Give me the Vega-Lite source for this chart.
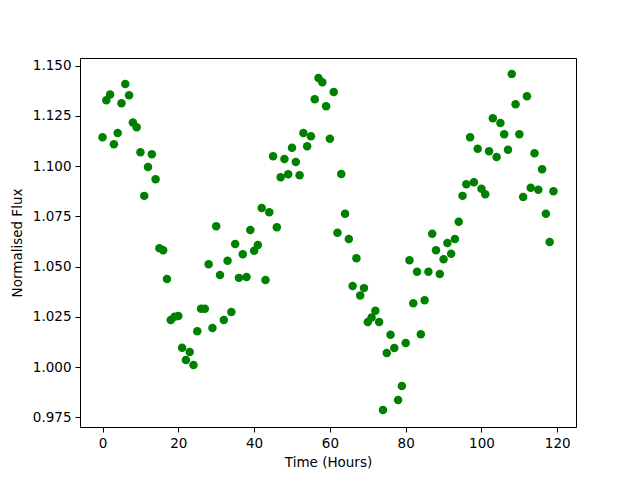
{
  "$schema": "https://vega.github.io/schema/vega-lite/v6.json",
  "width": 496,
  "height": 369,
  "autosize": {"type": "none"},
  "padding": {"left": 80, "top": 58, "right": 64, "bottom": 53},
  "background": "white",
  "config": {
    "view": {"stroke": "black", "strokeWidth": 1},
    "axis": {
      "domain": false,
      "grid": false,
      "ticks": true,
      "tickColor": "black",
      "tickSize": 5,
      "tickWidth": 1,
      "labelFont": "DejaVu Sans",
      "labelFontSize": 13.5,
      "labelColor": "black",
      "labelPadding": 4,
      "titleFont": "DejaVu Sans",
      "titleFontSize": 13.5,
      "titleFontWeight": "normal",
      "titleColor": "black"
    }
  },
  "data": {
    "values": [
      {"t": 0, "flux": 1.1144}, {"t": 1, "flux": 1.1328}, {"t": 2, "flux": 1.1356}, {"t": 3, "flux": 1.1109},
      {"t": 4, "flux": 1.1165}, {"t": 5, "flux": 1.1313}, {"t": 6, "flux": 1.1409}, {"t": 7, "flux": 1.1353},
      {"t": 8, "flux": 1.1217}, {"t": 9, "flux": 1.1194}, {"t": 10, "flux": 1.1069}, {"t": 11, "flux": 1.0852},
      {"t": 12, "flux": 1.0996}, {"t": 13, "flux": 1.1059}, {"t": 14, "flux": 1.0935}, {"t": 15, "flux": 1.0592},
      {"t": 16, "flux": 1.0582}, {"t": 17, "flux": 1.0438}, {"t": 18, "flux": 1.0234}, {"t": 19, "flux": 1.0250},
      {"t": 20, "flux": 1.0254}, {"t": 21, "flux": 1.0096}, {"t": 22, "flux": 1.0035}, {"t": 23, "flux": 1.0075},
      {"t": 24, "flux": 1.0010}, {"t": 25, "flux": 1.0179}, {"t": 26, "flux": 1.0290}, {"t": 27, "flux": 1.0290},
      {"t": 28, "flux": 1.0512}, {"t": 29, "flux": 1.0194}, {"t": 30, "flux": 1.0701}, {"t": 31, "flux": 1.0458},
      {"t": 32, "flux": 1.0234}, {"t": 33, "flux": 1.0529}, {"t": 34, "flux": 1.0274}, {"t": 35, "flux": 1.0612},
      {"t": 36, "flux": 1.0444}, {"t": 37, "flux": 1.0562}, {"t": 38, "flux": 1.0448}, {"t": 39, "flux": 1.0682},
      {"t": 40, "flux": 1.0579}, {"t": 41, "flux": 1.0607}, {"t": 42, "flux": 1.0792}, {"t": 43, "flux": 1.0433},
      {"t": 44, "flux": 1.0771}, {"t": 45, "flux": 1.1049}, {"t": 46, "flux": 1.0696}, {"t": 47, "flux": 1.0945},
      {"t": 48, "flux": 1.1036}, {"t": 49, "flux": 1.0960}, {"t": 50, "flux": 1.1091}, {"t": 51, "flux": 1.1020},
      {"t": 52, "flux": 1.0955}, {"t": 53, "flux": 1.1165}, {"t": 54, "flux": 1.1099}, {"t": 55, "flux": 1.1149},
      {"t": 56, "flux": 1.1333}, {"t": 57, "flux": 1.1439}, {"t": 58, "flux": 1.1417}, {"t": 59, "flux": 1.1298},
      {"t": 60, "flux": 1.1136}, {"t": 61, "flux": 1.1369}, {"t": 62, "flux": 1.0668}, {"t": 63, "flux": 1.0961},
      {"t": 64, "flux": 1.0763}, {"t": 65, "flux": 1.0638}, {"t": 66, "flux": 1.0403}, {"t": 67, "flux": 1.0542},
      {"t": 68, "flux": 1.0356}, {"t": 69, "flux": 1.0393}, {"t": 70, "flux": 1.0224}, {"t": 71, "flux": 1.0247},
      {"t": 72, "flux": 1.0280}, {"t": 73, "flux": 1.0224}, {"t": 74, "flux": 0.9786}, {"t": 75, "flux": 1.0070},
      {"t": 76, "flux": 1.0161}, {"t": 77, "flux": 1.0095}, {"t": 78, "flux": 0.9836}, {"t": 79, "flux": 0.9906},
      {"t": 80, "flux": 1.0120}, {"t": 81, "flux": 1.0532}, {"t": 82, "flux": 1.0318}, {"t": 83, "flux": 1.0474},
      {"t": 84, "flux": 1.0164}, {"t": 85, "flux": 1.0333}, {"t": 86, "flux": 1.0474}, {"t": 87, "flux": 1.0663},
      {"t": 88, "flux": 1.0582}, {"t": 89, "flux": 1.0463}, {"t": 90, "flux": 1.0537}, {"t": 91, "flux": 1.0617},
      {"t": 92, "flux": 1.0564}, {"t": 93, "flux": 1.0637}, {"t": 94, "flux": 1.0723}, {"t": 95, "flux": 1.0852},
      {"t": 96, "flux": 1.0910}, {"t": 97, "flux": 1.1144}, {"t": 98, "flux": 1.0920}, {"t": 99, "flux": 1.1086},
      {"t": 100, "flux": 1.0887}, {"t": 101, "flux": 1.0860}, {"t": 102, "flux": 1.1074}, {"t": 103, "flux": 1.1238},
      {"t": 104, "flux": 1.1046}, {"t": 105, "flux": 1.1214}, {"t": 106, "flux": 1.1159}, {"t": 107, "flux": 1.1081},
      {"t": 108, "flux": 1.1459}, {"t": 109, "flux": 1.1308}, {"t": 110, "flux": 1.1159}, {"t": 111, "flux": 1.0847},
      {"t": 112, "flux": 1.1348}, {"t": 113, "flux": 1.0892}, {"t": 114, "flux": 1.1064}, {"t": 115, "flux": 1.0882},
      {"t": 116, "flux": 1.0985}, {"t": 117, "flux": 1.0763}, {"t": 118, "flux": 1.0623}, {"t": 119, "flux": 1.0875}
    ]
  },
  "mark": {"type": "point", "shape": "circle", "filled": true, "opacity": 1, "size": 72, "color": "#008000"},
  "encoding": {
    "x": {
      "field": "t",
      "type": "quantitative",
      "title": "Time (Hours)",
      "scale": {"domain": [-5.95, 124.95], "nice": false, "zero": false},
      "axis": {"values": [0, 20, 40, 60, 80, 100, 120], "format": "d", "titlePadding": 6}
    },
    "y": {
      "field": "flux",
      "type": "quantitative",
      "title": "Normalised Flux",
      "scale": {"domain": [0.9702, 1.1538], "nice": false, "zero": false},
      "axis": {"values": [0.975, 1.0, 1.025, 1.05, 1.075, 1.1, 1.125, 1.15], "format": ".3f", "titlePadding": 8}
    }
  }
}
